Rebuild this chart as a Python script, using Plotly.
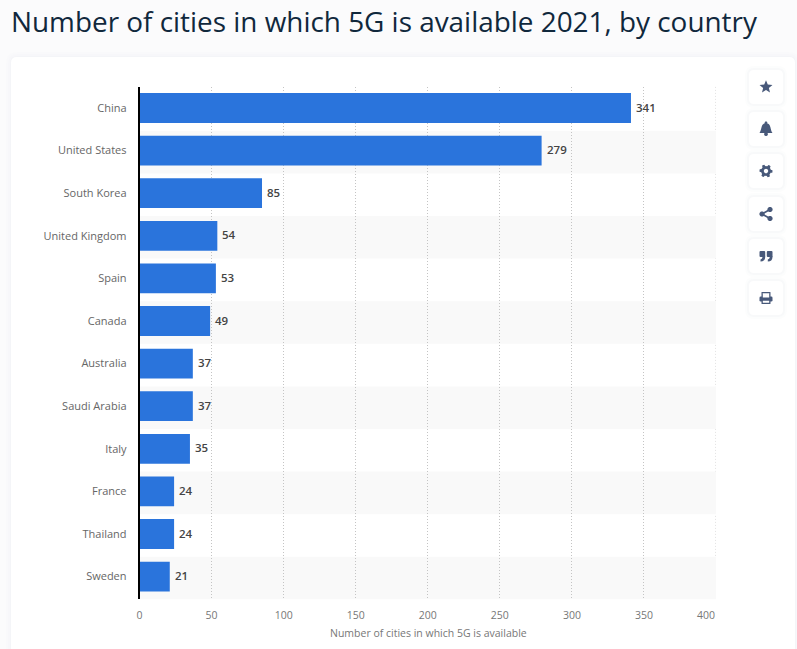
import numpy as np
import plotly.graph_objects as go

W, H = 797, 649

countries = ["China", "United States", "South Korea", "United Kingdom", "Spain", "Canada",
             "Australia", "Saudi Arabia", "Italy", "France", "Thailand", "Sweden"]
cities = [341, 279, 85, 54, 53, 49, 37, 37, 35, 24, 24, 21]
x_ticks = [0, 50, 100, 150, 200, 250, 300, 350, 400]

FONT = "Open Sans"
ICON = "#48597a"
GRID = "#c4c4c4"
ROW = 42.6  # row height in pixels


# page pixels to paper coordinates (margins are 0 so paper is the whole page)
def px(x):
    return x / W


def py(y):
    return 1 - y / H


def path(points, close=True):
    s = "M" + " L".join(f"{px(x):.5f},{py(y):.5f}" for x, y in points)
    return s + (" Z" if close else "")


def round_rect(x0, y0, x1, y1, r):
    pts = [("M", x0 + r, y0), ("L", x1 - r, y0), ("Q", x1, y0, x1, y0 + r), ("L", x1, y1 - r),
           ("Q", x1, y1, x1 - r, y1), ("L", x0 + r, y1), ("Q", x0, y1, x0, y1 - r),
           ("L", x0, y0 + r), ("Q", x0, y0, x0 + r, y0)]
    s = ""
    for p in pts:
        s += p[0]
        vals = p[1:]
        s += " ".join(f"{px(vals[i]):.5f},{py(vals[i + 1]):.5f}" for i in range(0, len(vals), 2)) + " "
    return s + "Z"


def circle(cx, cy, r):
    a = np.linspace(0, 2 * np.pi, 25)[:-1]
    return path([(cx + r * np.cos(t), cy + r * np.sin(t)) for t in a])


def solid(d, color=ICON, layer="above"):
    return dict(type="path", path=d, xref="paper", yref="paper", fillcolor=color,
                line=dict(width=0), layer=layer)


shapes = []

# card with a soft shadow
for grow, alpha in [(5, 0.006), (3, 0.008), (1, 0.012)]:
    shapes.append(solid(round_rect(11 - grow, 57 - grow, 795 + grow, 660, 6 + grow),
                        f"rgba(40,60,90,{alpha})", "below"))
shapes.append(solid(round_rect(11, 57, 795, 660, 6), "white", "below"))

# alternating row bands, they sit a little lower than the bars
for i in range(1, len(countries), 2):
    shapes.append(dict(type="rect", xref="x", yref="y", x0=0, x1=400, y0=i - 0.465, y1=i + 0.535,
                       fillcolor="#f9f9f9", line=dict(width=0), layer="below"))

# side buttons
btn_y = [87, 129, 171, 214, 256, 298]
for cy in btn_y:
    for grow, alpha in [(4, 0.012), (2, 0.018)]:
        shapes.append(solid(round_rect(749 - grow, cy - 17 - grow, 783 + grow, cy + 17 + grow, 5 + grow),
                            f"rgba(40,60,90,{alpha})"))
    shapes.append(solid(round_rect(749, cy - 17, 783, cy + 17, 5), "white"))

cx = 766

# star
cy = btn_y[0]
star = []
for k in range(10):
    r = 6.8 if k % 2 == 0 else 3.0
    a = -np.pi / 2 + k * np.pi / 5
    star.append((cx + r * np.cos(a), cy + r * np.sin(a)))
shapes.append(solid(path(star)))

# bell
cy = btn_y[1]
bell = "M" + f"{px(cx - 6.5)},{py(cy + 4)} " \
    + f"C{px(cx - 4)},{py(cy + 1)} {px(cx - 5.5)},{py(cy - 5.5)} {px(cx)},{py(cy - 6)} " \
    + f"C{px(cx + 5.5)},{py(cy - 5.5)} {px(cx + 4)},{py(cy + 1)} {px(cx + 6.5)},{py(cy + 4)} Z"
shapes.append(solid(bell))
shapes.append(solid(circle(cx, cy - 6.3, 1.3)))
shapes.append(solid(circle(cx, cy + 5.2, 1.9)))

# gear
cy = btn_y[2]
gear = []
for k in range(48):
    a = k * 2 * np.pi / 48
    r = 6.5 if (k % 8) in (0, 1, 2, 7) else 4.9
    gear.append((cx + r * np.cos(a), cy + r * np.sin(a)))
shapes.append(solid(path(gear)))
shapes.append(solid(circle(cx, cy, 2.2), "white"))

# share
cy = btn_y[3]
shapes.append(dict(type="path", path=path([(cx + 4, cy - 4.5), (cx - 4, cy), (cx + 4, cy + 4.5)], close=False),
                   xref="paper", yref="paper", line=dict(color=ICON, width=1.6), layer="above"))
for dx, dy in [(4, -4.5), (-4, 0), (4, 4.5)]:
    shapes.append(solid(circle(cx + dx, cy + dy, 2.6)))

# quote marks
cy = btn_y[4]
for dx in (-6.5, 0.8):
    shapes.append(solid(round_rect(cx + dx, cy - 5, cx + dx + 5.7, cy + 1, 1)))
    tail = f"M{px(cx + dx + 5.7)},{py(cy)} L{px(cx + dx + 5.7)},{py(cy + 1)} " \
        + f"Q{px(cx + dx + 5.5)},{py(cy + 5.5)} {px(cx + dx + 1)},{py(cy + 5.5)} " \
        + f"L{px(cx + dx + 1)},{py(cy + 3.4)} Q{px(cx + dx + 3)},{py(cy + 3.2)} {px(cx + dx + 3)},{py(cy)} Z"
    shapes.append(solid(tail))

# printer
cy = btn_y[5]
shapes.append(solid(round_rect(cx - 6.5, cy - 1.5, cx + 6.5, cy + 3.5, 1.3)))
shapes.append(solid(round_rect(cx - 4.5, cy - 6, cx + 4.5, cy + 1, 0.6)))
shapes.append(solid(round_rect(cx - 3.2, cy - 4.8, cx + 3.2, cy - 0.5, 0.2), "white"))
shapes.append(solid(round_rect(cx - 4.5, cy + 1.5, cx + 4.5, cy + 6, 0.6)))
shapes.append(solid(round_rect(cx - 3.2, cy + 2.8, cx + 3.2, cy + 4.8, 0.2), "white"))

fig = go.Figure(go.Bar(
    x=cities, y=countries, orientation="h", width=0.7,
    marker=dict(color="#2a74dc", line=dict(width=0)),
    hoverinfo="x+y",
))

annotations = [
    # last tick label sits inside the plot edge
    dict(text=str(x_ticks[-1]), xref="paper", yref="paper", x=px(717), y=py(614.5), xanchor="right",
         yanchor="middle", showarrow=False, font=dict(family=FONT, size=10.5, color="#777777")),
    dict(text="Number of cities in which 5G is available", xref="paper", yref="paper",
         x=px(428), y=py(633), xanchor="center", yanchor="middle", showarrow=False,
         font=dict(family=FONT, size=10.5, color="#777777")),
]
for name, value in zip(countries, cities):
    annotations.append(dict(text=str(value), x=value, y=name, xref="x", yref="y", xanchor="left",
                            yanchor="middle", xshift=3, yshift=1, showarrow=False,
                            font=dict(family=FONT, size=11.5, color="#444444", weight=600)))

fig.update_layout(
    width=W, height=H,
    margin=dict(l=0, r=0, t=0, b=0),
    paper_bgcolor="#fbfbfc", plot_bgcolor="rgba(0,0,0,0)",
    showlegend=False,
    title=dict(text="Number of cities in which 5G is available 2021, by country",
               x=px(11), xanchor="left", xref="paper", y=py(22), yanchor="middle",
               font=dict(family=FONT, size=27.9, color="#10283c", weight=500)),
    shapes=shapes,
    xaxis=dict(domain=[px(139.5), px(716)], range=[0, 400], tickvals=x_ticks[:-1],
               ticktext=[str(v) for v in x_ticks[:-1]],
               showgrid=True, gridcolor=GRID, griddash="1px,2px", gridwidth=1,
               zeroline=False, showline=False, ticks="outside", ticklen=6, tickcolor="rgba(0,0,0,0)",
               tickfont=dict(family=FONT, size=10.5, color="#777777"), automargin=False),
    yaxis=dict(domain=[py(86.7 + 12 * ROW + 1.5), py(86.7)], range=[11.5 + 1.5 / ROW, -0.5], type="category",
               showline=True, linecolor="#000000", linewidth=1.5, showgrid=False, zeroline=False,
               ticks="outside", ticklen=9, tickcolor="rgba(0,0,0,0)",
               tickfont=dict(family=FONT, size=11, color="#666666"), automargin=False),
    annotations=annotations,
)
fig.add_shape(type="line", xref="x", yref="paper", x0=400, x1=400, y0=py(86.7 + 12 * ROW), y1=py(86.7),
              line=dict(color=GRID, width=1, dash="1px,2px"), layer="below")

fig.write_html("out.html", config=dict(displayModeBar=False), post_script="document.body.style.margin='0';")
